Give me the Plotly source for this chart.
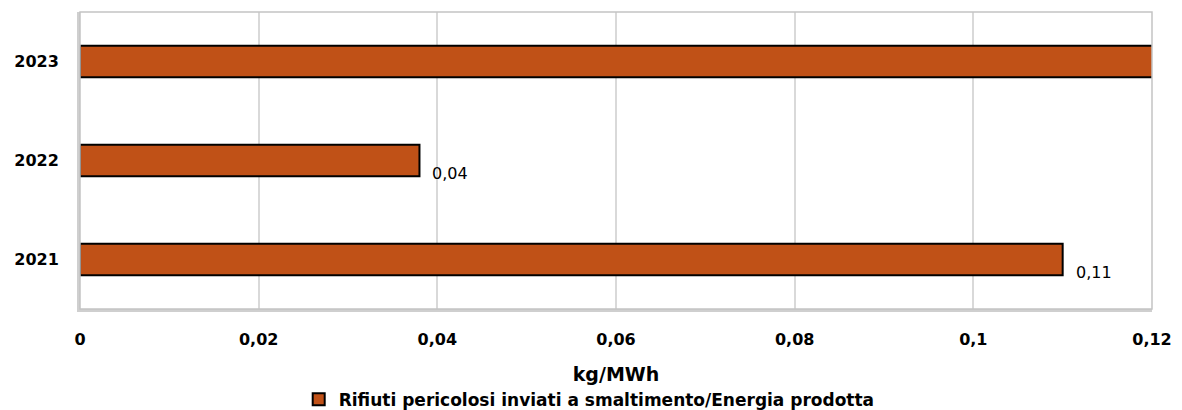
import plotly.graph_objects as go

years = ['2021', '2022', '2023']
values = [0.110, 0.038, 0.13]
value_labels = ['0,11', '0,04', '']
series_name = 'Rifiuti pericolosi inviati a smaltimento/Energia prodotta'
x_ticks = [0, 0.02, 0.04, 0.06, 0.08, 0.1, 0.12]
x_tick_labels = ['0', '0,02', '0,04', '0,06', '0,08', '0,1', '0,12']

bar_color = '#C05117'

fig = go.Figure()
fig.add_trace(go.Bar(
    x=values,
    y=years,
    orientation='h',
    name=series_name,
    marker=dict(color=bar_color, line=dict(color='black', width=2)),
    width=0.32,
    cliponaxis=True,
))

# value labels sit just right of the bar end, a bit below centre
# (category axis: annotation y given as the category index)
for i, (v, lab) in enumerate(zip(values, value_labels)):
    if lab:
        fig.add_annotation(x=v, y=i, text=lab, showarrow=False,
                           xanchor='left', yanchor='middle', xshift=11, yshift=-13,
                           font=dict(family='DejaVu Sans', size=16, color='black'))

fig.update_layout(
    width=1182, height=410,
    margin=dict(l=80, r=30, t=12, b=101, autoexpand=False),
    plot_bgcolor='white', paper_bgcolor='white',
    showlegend=True,
    legend=dict(orientation='h', x=0.475, xanchor='center', y=-0.245, yanchor='top',
                itemwidth=30,
                font=dict(family='DejaVu Sans', size=17, color='black', weight='bold')),
    font=dict(family='DejaVu Sans', color='black'),
)
fig.update_xaxes(
    range=[0, 0.12], tickvals=x_ticks, ticktext=x_tick_labels,
    showgrid=True, gridcolor='#d9d9d9', gridwidth=1.5,
    showline=True, linecolor='#cfcfcf', linewidth=3, mirror=False,
    tickfont=dict(family='DejaVu Sans', size=16, color='black', weight='bold'),
    ticks='', ticklabelstandoff=14, zeroline=False, automargin=False,
    title=dict(text='kg/MWh', font=dict(family='DejaVu Sans', size=19, color='black', weight='bold'),
               standoff=20),
)
fig.update_yaxes(
    type='category', categoryorder='array', categoryarray=years,
    range=[-0.5, 2.5],
    showline=True, linecolor='#cfcfcf', linewidth=3,
    tickfont=dict(family='DejaVu Sans', size=16, color='black', weight='bold'),
    ticks='', ticklabelstandoff=15, automargin=False,
)
# thin frame on top and right
fig.add_shape(type='rect', xref='paper', yref='paper', x0=0, x1=1, y0=0, y1=1,
              line=dict(color='#c4c4c4', width=1.5), layer='above')

fig.write_html('out.html', config={'displayModeBar': False},
               post_script="document.body.style.margin='0';")
